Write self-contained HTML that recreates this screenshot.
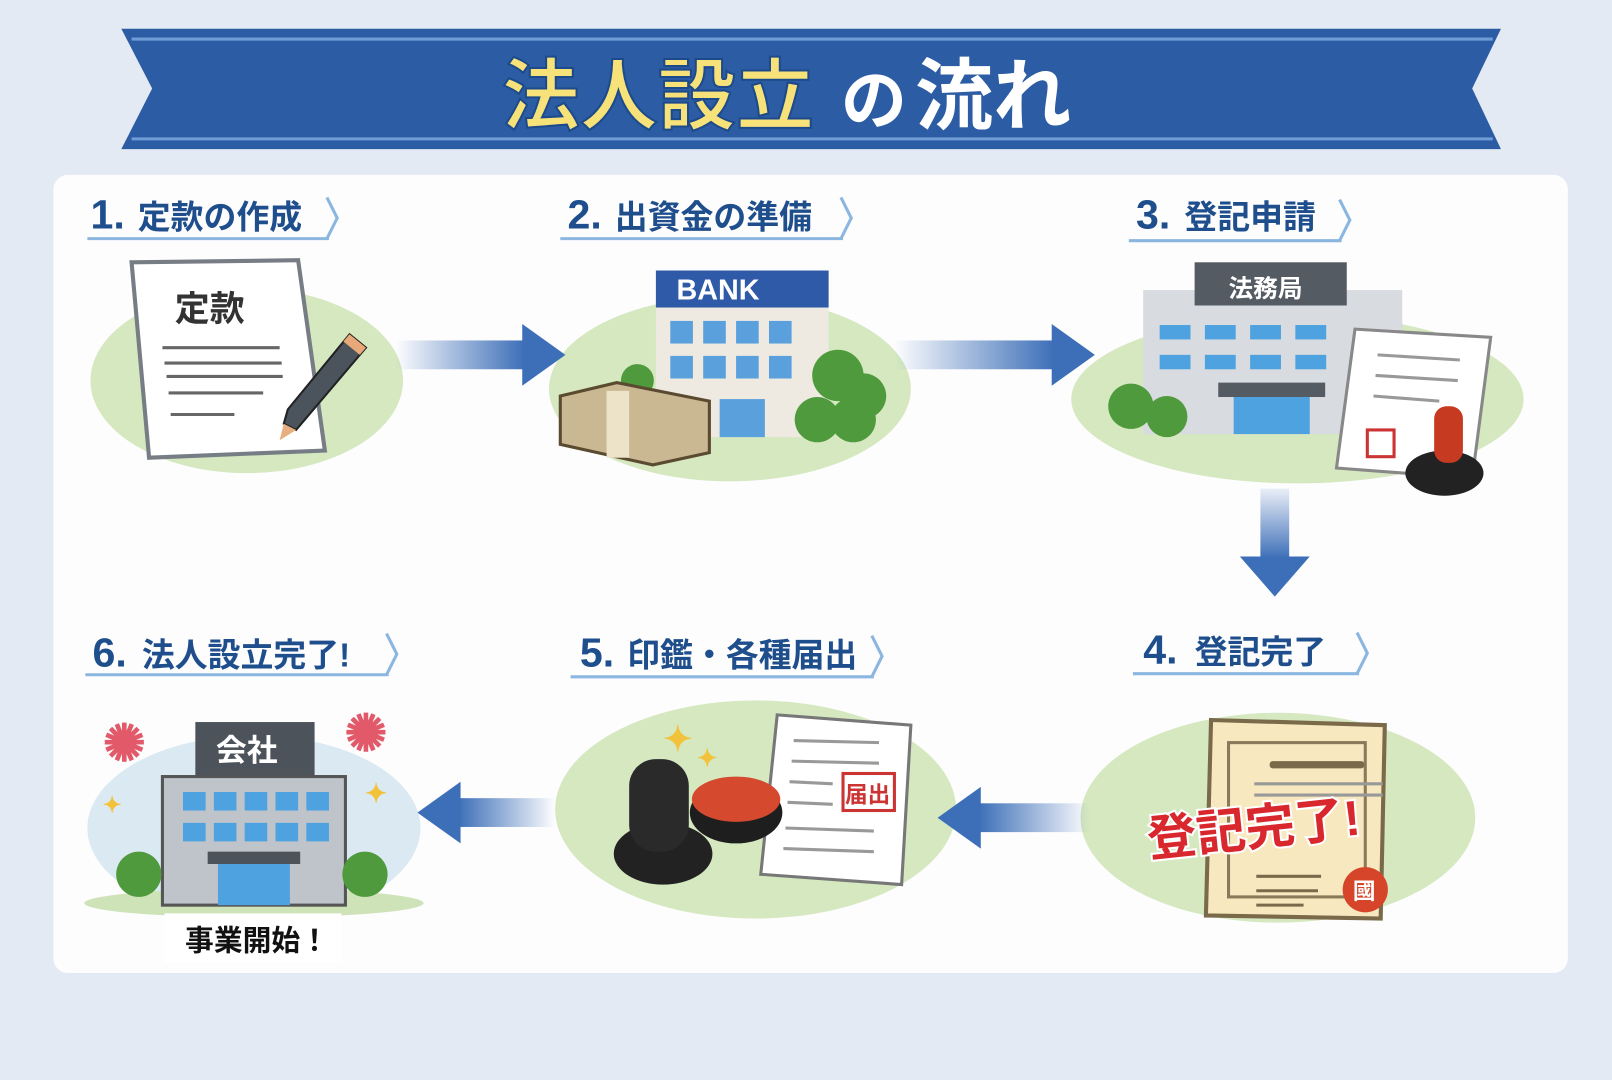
<!DOCTYPE html>
<html><head><meta charset="utf-8"><style>
html,body{margin:0;padding:0;background:#e3eaf4;}
svg{display:block}
text{font-family:"Liberation Sans","Noto Sans CJK JP",sans-serif;font-weight:bold}
</style></head><body>
<svg width="1612" height="1080" viewBox="0 0 1568 1050" preserveAspectRatio="none" xmlns="http://www.w3.org/2000/svg">
<defs>
<linearGradient id="gh" x1="0" x2="1"><stop offset="0" stop-color="#3d6fb8" stop-opacity="0"/><stop offset="1" stop-color="#3d6fb8"/></linearGradient>
<linearGradient id="ghr" x1="1" x2="0"><stop offset="0" stop-color="#3d6fb8" stop-opacity="0"/><stop offset="1" stop-color="#3d6fb8"/></linearGradient>
<linearGradient id="gv" x1="0" x2="0" y1="0" y2="1"><stop offset="0" stop-color="#3d6fb8" stop-opacity="0.1"/><stop offset="1" stop-color="#3d6fb8"/></linearGradient>
</defs>
<rect width="1568" height="1050" fill="#e3eaf4"/>
<!-- banner -->
<polygon points="118,28 1460,28 1432,86 1460,145 118,145 148,86" fill="#2c5ca3"/>
<line x1="128" y1="38" x2="1452" y2="38" stroke="#6f9bd6" stroke-width="3"/>
<line x1="128" y1="135" x2="1452" y2="135" stroke="#6f9bd6" stroke-width="3"/>
<text x="488" y="120" font-size="76" fill="#f7e27a" stroke="#1d4a8a" stroke-width="2">法人設立</text>
<text x="818" y="120" font-size="64" fill="#fff">の</text>
<text x="890" y="120" font-size="76" fill="#fff">流れ</text>
<!-- panel -->
<rect x="52" y="170" width="1473" height="776" rx="14" fill="#fdfdfe"/>
<!-- green ellipses -->
<ellipse cx="240" cy="370" rx="152" ry="90" fill="#d5e8c0"/>
<ellipse cx="710" cy="378" rx="176" ry="90" fill="#d5e8c0"/>
<ellipse cx="1262" cy="388" rx="220" ry="82" fill="#d5e8c0"/>
<ellipse cx="1243" cy="795" rx="192" ry="102" fill="#d5e8c0"/>
<ellipse cx="735" cy="787" rx="195" ry="106" fill="#d5e8c0"/>
<ellipse cx="247" cy="805" rx="162" ry="90" fill="#dbe9f2"/>
<ellipse cx="247" cy="878" rx="165" ry="14" fill="#cfe3b8"/>
<!-- headings -->
<g font-size="32" fill="#1f4e8c">
<text x="88" y="222" font-size="40">1.</text><text x="134" y="222">定款の作成</text>
<text x="552" y="222" font-size="40">2.</text><text x="598" y="222">出資金の準備</text>
<text x="1105" y="222" font-size="40">3.</text><text x="1152" y="222">登記申請</text>
<text x="1112" y="645" font-size="40">4.</text><text x="1162" y="645">登記完了</text>
<text x="564" y="648" font-size="40">5.</text><text x="610" y="648">印鑑・各種届出</text>
<text x="90" y="648" font-size="40">6.</text><text x="138" y="648">法人設立完了!</text>
</g>
<g stroke="#8bb6e0" stroke-width="3" fill="none">
<polyline points="85,232 320,232"/><polyline points="318,192 328,212 318,232"/>
<polyline points="545,232 820,232"/><polyline points="818,192 828,212 818,232"/>
<polyline points="1098,234 1305,234"/><polyline points="1303,194 1313,214 1303,234"/>
<polyline points="1102,655 1322,655"/><polyline points="1320,615 1330,635 1320,655"/>
<polyline points="555,658 850,658"/><polyline points="848,618 858,638 848,658"/>
<polyline points="83,656 378,656"/><polyline points="376,616 386,636 376,656"/>
</g>
<!-- arrows -->
<rect x="385" y="331" width="125" height="28" fill="url(#gh)"/><polygon points="508,315 550,345 508,375" fill="#3d6fb8"/>
<rect x="870" y="331" width="155" height="28" fill="url(#gh)"/><polygon points="1023,315 1065,345 1023,375" fill="#3d6fb8"/>
<rect x="1226" y="475" width="28" height="68" fill="url(#gv)"/><polygon points="1206,541 1274,541 1240,580" fill="#3d6fb8"/>
<rect x="952" y="781" width="108" height="28" fill="url(#ghr)"/><polygon points="954,765 912,795 954,825" fill="#3d6fb8"/>
<rect x="446" y="776" width="94" height="28" fill="url(#ghr)"/><polygon points="448,760 406,790 448,820" fill="#3d6fb8"/>
<!-- step1 document -->
<polygon points="128,255 290,253 316,438 145,445" fill="#fff" stroke="#777d84" stroke-width="4"/>
<text x="170" y="312" font-size="34" fill="#333">定款</text>
<g stroke="#666" stroke-width="3"><line x1="158" y1="338" x2="272" y2="338"/><line x1="160" y1="353" x2="274" y2="353"/><line x1="162" y1="366" x2="275" y2="366"/><line x1="164" y1="382" x2="256" y2="382"/><line x1="166" y1="403" x2="228" y2="403"/></g>
<polygon points="340,325 356,338 288,418 276,412 280,398" fill="#4b545c" stroke="#222" stroke-width="2"/>
<polygon points="340,325 356,338 350,345 334,332" fill="#e8a878"/>
<polygon points="276,412 288,418 272,428" fill="#e8b080"/>
<!-- step2 bank -->
<rect x="638" y="263" width="168" height="162" fill="#eeeae2"/>
<rect x="638" y="263" width="168" height="36" fill="#2f5aa8"/>
<text x="658" y="291" font-size="28" fill="#fff">BANK</text>
<g fill="#5aa0dc"><rect x="652" y="312" width="22" height="22"/><rect x="684" y="312" width="22" height="22"/><rect x="716" y="312" width="22" height="22"/><rect x="748" y="312" width="22" height="22"/><rect x="652" y="346" width="22" height="22"/><rect x="684" y="346" width="22" height="22"/><rect x="716" y="346" width="22" height="22"/><rect x="748" y="346" width="22" height="22"/><rect x="700" y="388" width="44" height="37"/></g>
<g fill="#4f9a3c"><circle cx="815" cy="365" r="25"/><circle cx="840" cy="385" r="22"/><circle cx="795" cy="408" r="22"/><circle cx="830" cy="408" r="22"/><circle cx="620" cy="370" r="16"/></g>
<polygon points="545,385 600,372 690,390 690,440 635,452 545,432" fill="#c9b892" stroke="#5a4a30" stroke-width="3"/>
<rect x="590" y="380" width="22" height="65" fill="#ece3c8"/>
<!-- step3 building -->
<rect x="1112" y="282" width="252" height="140" fill="#d8dbe0"/>
<rect x="1162" y="255" width="148" height="42" fill="#555b63"/>
<text x="1195" y="289" font-size="24" fill="#fff">法務局</text>
<g fill="#4ea2e0"><rect x="1128" y="316" width="30" height="14"/><rect x="1172" y="316" width="30" height="14"/><rect x="1216" y="316" width="30" height="14"/><rect x="1260" y="316" width="30" height="14"/><rect x="1128" y="345" width="30" height="14"/><rect x="1172" y="345" width="30" height="14"/><rect x="1216" y="345" width="30" height="14"/><rect x="1260" y="345" width="30" height="14"/><rect x="1200" y="386" width="74" height="36"/></g>
<rect x="1185" y="372" width="104" height="14" fill="#555b63"/>
<g fill="#4f9a3c"><circle cx="1100" cy="395" r="22"/><circle cx="1135" cy="405" r="20"/></g>
<polygon points="1318,320 1450,328 1432,465 1300,455" fill="#fff" stroke="#888" stroke-width="3"/>
<g stroke="#999" stroke-width="3"><line x1="1340" y1="345" x2="1420" y2="350"/><line x1="1338" y1="365" x2="1418" y2="370"/><line x1="1336" y1="385" x2="1400" y2="390"/></g>
<rect x="1330" y="418" width="26" height="26" fill="none" stroke="#c33" stroke-width="3"/>
<ellipse cx="1405" cy="460" rx="38" ry="22" fill="#222"/>
<rect x="1395" y="395" width="28" height="55" rx="12" fill="#c73a22"/>
<!-- step4 certificate -->
<polygon points="1178,700 1347,705 1343,893 1173,890" fill="#f8e8c0" stroke="#7a6a4a" stroke-width="4"/>
<rect x="1195" y="722" width="133" height="150" fill="none" stroke="#8a7a5a" stroke-width="3"/>
<rect x="1235" y="740" width="92" height="7" rx="3" fill="#7a6a4a"/>
<g stroke="#999" stroke-width="3"><line x1="1220" y1="762" x2="1345" y2="762"/><line x1="1220" y1="773" x2="1345" y2="773"/></g>
<g stroke="#7a6a4a" stroke-width="3"><line x1="1222" y1="852" x2="1285" y2="852"/><line x1="1222" y1="866" x2="1282" y2="866"/><line x1="1222" y1="880" x2="1268" y2="880"/></g>
<circle cx="1328" cy="865" r="22" fill="#d6452a"/>
<text x="1316" y="874" font-size="22" fill="#fff">國</text>
<text x="1115" y="822" font-size="48" fill="#d9272e" stroke="#fff" stroke-width="4" paint-order="stroke" transform="rotate(-6 1220 800)">登記完了!</text>
<!-- step5 seals & doc -->
<polygon points="756,695 886,705 877,860 740,850" fill="#fff" stroke="#777" stroke-width="3"/>
<g stroke="#999" stroke-width="3"><line x1="772" y1="720" x2="855" y2="722"/><line x1="770" y1="740" x2="855" y2="742"/><line x1="768" y1="760" x2="810" y2="762"/><line x1="766" y1="780" x2="810" y2="782"/><line x1="764" y1="805" x2="850" y2="808"/><line x1="762" y1="825" x2="850" y2="828"/></g>
<rect x="820" y="752" width="50" height="36" fill="none" stroke="#c33" stroke-width="3"/>
<text x="822" y="780" font-size="22" fill="#c33">届出</text>
<ellipse cx="716" cy="790" rx="45" ry="30" fill="#1e1e1e"/><ellipse cx="716" cy="777" rx="43" ry="22" fill="#d54a2e"/>
<ellipse cx="645" cy="830" rx="48" ry="30" fill="#222"/>
<rect x="612" y="738" width="58" height="90" rx="26" fill="#2a2a2a"/>
<text x="645" y="730" font-size="34" fill="#f2c23a">✦</text><text x="678" y="745" font-size="24" fill="#f2c23a">✦</text>
<!-- step6 company -->
<rect x="158" y="755" width="178" height="125" fill="#bfc4ca" stroke="#555" stroke-width="3"/>
<rect x="190" y="702" width="116" height="52" fill="#4d535b"/>
<text x="210" y="740" font-size="30" fill="#fff">会社</text>
<g fill="#4ea2e0"><rect x="178" y="770" width="22" height="18"/><rect x="208" y="770" width="22" height="18"/><rect x="238" y="770" width="22" height="18"/><rect x="268" y="770" width="22" height="18"/><rect x="298" y="770" width="22" height="18"/><rect x="178" y="800" width="22" height="18"/><rect x="208" y="800" width="22" height="18"/><rect x="238" y="800" width="22" height="18"/><rect x="268" y="800" width="22" height="18"/><rect x="298" y="800" width="22" height="18"/><rect x="212" y="840" width="70" height="40"/></g>
<rect x="202" y="828" width="90" height="12" fill="#4d535b"/>
<g fill="#4f9a3c"><circle cx="135" cy="850" r="22"/><circle cx="355" cy="850" r="22"/></g>
<text x="100" y="740" font-size="50" fill="#e25a6a">✺</text><text x="335" y="730" font-size="50" fill="#e25a6a">✺</text>
<text x="100" y="790" font-size="22" fill="#f2c23a">✦</text><text x="355" y="780" font-size="26" fill="#f2c23a">✦</text>
<rect x="160" y="888" width="172" height="48" fill="#fff"/>
<text x="180" y="924" font-size="28" fill="#111">事業開始！</text>
</svg>
</body></html>
